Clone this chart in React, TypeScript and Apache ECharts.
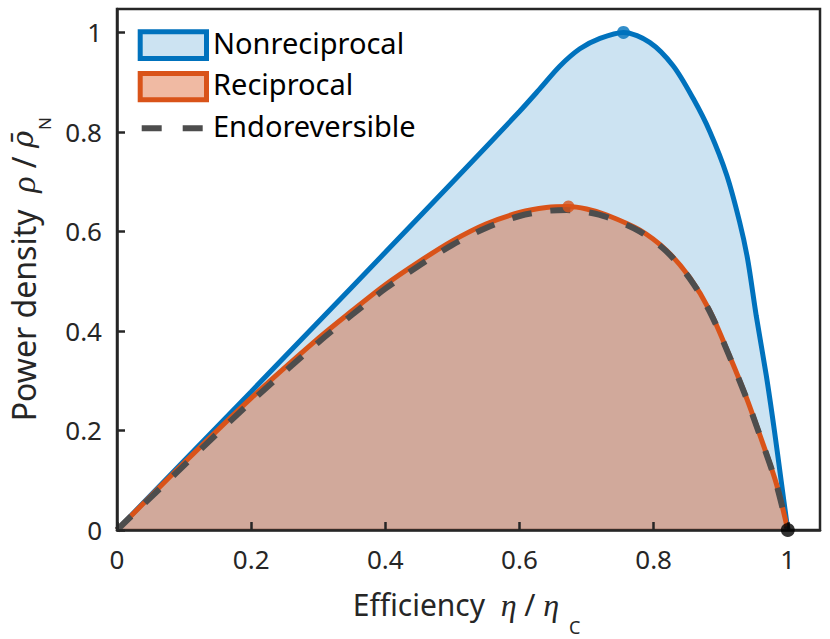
import React, { useEffect, useRef } from "react";
import * as echarts from "echarts";

// ---- data ----
const nonRecX = [0, 0.1, 0.2, 0.3, 0.4, 0.5, 0.6, 0.63, 0.66, 0.69, 0.72, 0.755, 0.794, 0.829, 0.859, 0.884, 0.909, 0.928, 0.94, 0.953, 0.968, 0.98, 0.99, 1.0];
const nonRecY = [0, 0.139, 0.278, 0.418, 0.558, 0.699, 0.841, 0.886, 0.932, 0.967, 0.988, 1.0, 0.98, 0.933, 0.867, 0.8, 0.713, 0.62, 0.545, 0.43, 0.31, 0.2, 0.1, 0];

const recX = [0, 0.1, 0.2, 0.3, 0.35, 0.4, 0.45, 0.5, 0.55, 0.6, 0.64, 0.673, 0.7, 0.73, 0.779, 0.819, 0.854, 0.884, 0.914, 0.938, 0.963, 0.983, 1.0];
const recY = [0, 0.135, 0.265, 0.385, 0.44, 0.493, 0.539, 0.581, 0.615, 0.638, 0.648, 0.65, 0.645, 0.633, 0.603, 0.562, 0.507, 0.44, 0.347, 0.267, 0.173, 0.093, 0];

const endoX = [0, 0.1, 0.2, 0.3, 0.35, 0.4, 0.45, 0.5, 0.55, 0.6, 0.64, 0.67, 0.7, 0.73, 0.779, 0.819, 0.854, 0.884, 0.914, 0.938, 0.963, 0.983, 1.0];
const endoY = [0, 0.13, 0.258, 0.377, 0.432, 0.485, 0.531, 0.573, 0.607, 0.631, 0.641, 0.643, 0.639, 0.629, 0.6, 0.56, 0.505, 0.438, 0.346, 0.266, 0.172, 0.092, 0];

const nonRecPeak = [0.755, 1.0];
const recPeak = [0.673, 0.65];
const carnotPoint = [1, 0];

const xTickLabels = ["0", "0.2", "0.4", "0.6", "0.8", "1"];
const yTickLabels = ["0", "0.2", "0.4", "0.6", "0.8", "1"];
const legendNames = ["Nonreciprocal", "Reciprocal", "Endoreversible"];

const SANS = "'Noto Sans', 'Open Sans', sans-serif";
const SERIF = "'Liberation Serif', 'DejaVu Serif', serif";
const INK = "#262626";
const BLUE = "#0072BD";
const ORANGE = "#D95319";
const GRAY = "#4D4D4D";

const zip = (xs: number[], ys: number[]) => xs.map((x, i) => [x, ys[i]]);
const fmt = (labels: string[]) => (v: number) => {
  const idx = Math.round(v / 0.2);
  return Math.abs(v - idx * 0.2) < 1e-6 && labels[idx] !== undefined ? labels[idx] : "";
};

export default function App() {
  const ref = useRef<HTMLDivElement>(null);
  useEffect(() => {
    if (!ref.current) return;
    const chart = echarts.init(ref.current, undefined, { renderer: "svg" });
    const tick = { show: true, inside: true, length: 8, lineStyle: { color: INK, width: 2.5 } };
    const axisLine = { show: true, lineStyle: { color: INK, width: 2.5 } };
    const legendText = (text: string, y: number) => ({
      type: "text", x: 213, y, z: 20,
      style: { text, fontSize: 29, fontFamily: SANS, fill: "#000", align: "left", verticalAlign: "middle" },
    });
    chart.setOption({
      animation: false,
      backgroundColor: "#ffffff",
      grid: {
        left: 117, right: 10, top: 9, bottom: 109,
        show: true, borderColor: INK, borderWidth: 2.5, backgroundColor: "transparent",
      },
      xAxis: {
        type: "value", min: 0, max: 1.048, interval: 0.2, z: 5,
        axisLine, axisTick: tick, splitLine: { show: false },
        axisLabel: { formatter: fmt(xTickLabels), showMaxLabel: false, margin: 16, fontSize: 26, fontFamily: SANS, color: INK },
      },
      yAxis: {
        type: "value", min: 0, max: 1.047, interval: 0.2, z: 5,
        axisLine, axisTick: tick, splitLine: { show: false },
        axisLabel: { formatter: fmt(yTickLabels), showMaxLabel: false, margin: 15, fontSize: 26, fontFamily: SANS, color: INK },
      },
      series: [
        {
          name: legendNames[0], type: "line", data: zip(nonRecX, nonRecY), showSymbol: false,
          smooth: 0.3, clip: false,
          lineStyle: { color: BLUE, width: 5 }, itemStyle: { color: BLUE },
          areaStyle: { color: BLUE, opacity: 0.2 }, z: 2,
        },
        {
          name: legendNames[1], type: "line", data: zip(recX, recY), showSymbol: false,
          smooth: 0.3, clip: false,
          lineStyle: { color: ORANGE, width: 5 }, itemStyle: { color: ORANGE },
          areaStyle: { color: ORANGE, opacity: 0.4 }, z: 3,
        },
        {
          name: legendNames[2], type: "line", data: zip(endoX, endoY), showSymbol: false,
          smooth: 0.3, clip: false,
          lineStyle: { color: GRAY, width: 6, type: [20, 19], cap: "butt" }, itemStyle: { color: GRAY }, z: 4,
        },
        {
          type: "scatter", data: [nonRecPeak], symbol: "circle", symbolSize: 13, clip: false,
          itemStyle: { color: BLUE }, z: 8,
        },
        {
          type: "scatter", data: [recPeak], symbol: "circle", symbolSize: 12, clip: false,
          itemStyle: { color: ORANGE }, z: 8,
        },
        {
          type: "scatter", data: [carnotPoint], symbol: "circle", symbolSize: 14, clip: false,
          itemStyle: { color: "#000000" }, z: 10,
        },
      ],
      graphic: [
        { type: "rect", shape: { x: 140.2, y: 31.8, width: 66.3, height: 26.7 },
          style: { fill: "#CCE3F2", stroke: BLUE, lineWidth: 5 }, z: 20 },
        legendText(legendNames[0], 42),
        { type: "rect", shape: { x: 140.2, y: 73.5, width: 66.3, height: 26.3 },
          style: { fill: "#F0BAA3", stroke: ORANGE, lineWidth: 5 }, z: 20 },
        legendText(legendNames[1], 83.6),
        { type: "line", shape: { x1: 141.7, y1: 128.3, x2: 203.3, y2: 128.3 },
          style: { stroke: GRAY, lineWidth: 6, lineDash: [20, 21] }, z: 20 },
        legendText(legendNames[2], 125),
        {
          type: "text", x: 352.7, y: 604.6, z: 20,
          style: {
            text: "Efficiency  {i|η} / {i|η}",
            fontSize: 30, fontFamily: SANS, fill: INK, align: "left", verticalAlign: "middle",
            rich: {
              i: { fontFamily: SERIF, fontStyle: "italic", fontSize: 32 },
            },
          },
        },
        {
          type: "text", x: 569, y: 627, z: 20,
          style: { text: "C", fontSize: 18, fontFamily: SANS, fill: INK, align: "left", verticalAlign: "middle" },
        },
        {
          type: "text", x: 23, y: 117, rotation: Math.PI / 2, z: 20,
          style: {
            text: "Power density  {i|ρ} / {b|ρ\u0304}{n|N}",
            fontSize: 32, fontFamily: SANS, fill: INK, align: "right", verticalAlign: "middle",
            rich: {
              i: { fontFamily: SERIF, fontStyle: "italic", fontSize: 34 },
              b: { fontFamily: "'DejaVu Serif', serif", fontStyle: "italic", fontSize: 29 },
              n: { fontFamily: SANS, fontSize: 17, padding: [42, 0, 0, 1] },
            },
          },
        },
      ],
    });
    return () => chart.dispose();
  }, []);
  return <div ref={ref} style={{ position: "absolute", left: 0, top: 0, width: 830, height: 639 }} />;
}
